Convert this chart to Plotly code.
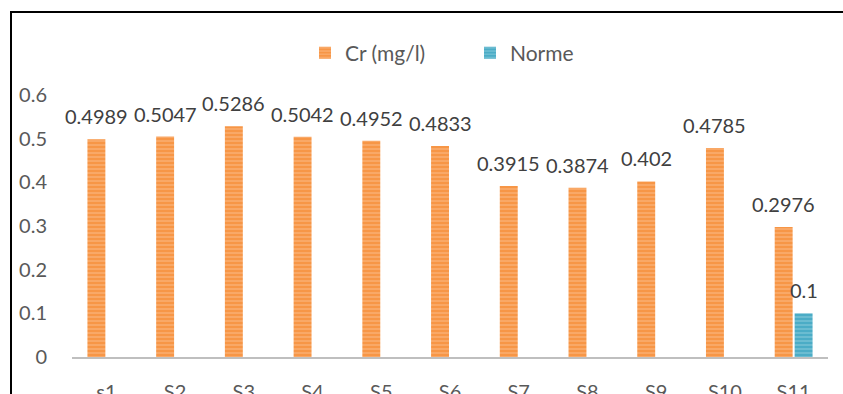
import plotly.graph_objects as go

categories = ["s1", "S2", "S3", "S4", "S5", "S6", "S7", "S8", "S9", "S10", "S11"]
cr_values = [0.4989, 0.5047, 0.5286, 0.5042, 0.4952, 0.4833, 0.3915, 0.3874, 0.402, 0.4785, 0.2976]
norme_values = [None, None, None, None, None, None, None, None, None, None, 0.1]
y_ticks = [0, 0.1, 0.2, 0.3, 0.4, 0.5, 0.6]

W, H = 843, 394
ML, MR, MT, MB = 72, 15, 95, 37
FONT = "Lato"
BARGAP = 0.42

fig = go.Figure()
fig.add_trace(go.Bar(
    name="Cr (mg/l)", x=categories, y=cr_values,
    marker=dict(color="#F79646", line=dict(width=0),
                pattern=dict(shape="-", fgcolor="#FBC9A0", bgcolor="#F79646",
                             size=4, solidity=0.35, fillmode="overlay")),
))
fig.add_trace(go.Bar(
    name="Norme", x=categories, y=norme_values,
    marker=dict(color="#4BACC6", line=dict(width=0),
                pattern=dict(shape="-", fgcolor="#A5D8E6", bgcolor="#4BACC6",
                             size=4, solidity=0.35, fillmode="overlay")),
))

pw = W - ML - MR
ph = H - MT - MB
cat_w = pw / len(categories)
half = cat_w * (1 - BARGAP) / 4  # offset from category center to each bar's center

# value labels above each bar
for series, dx in ((cr_values, -half), (norme_values, half)):
    for cat, v in zip(categories, series):
        if v is None:
            continue
        fig.add_annotation(x=cat, y=v, text=f"{v:g}", showarrow=False,
                           xanchor="center", yanchor="bottom", xshift=dx, yshift=9,
                           font=dict(family=FONT, size=20, color="#404040"))

# outer frame
fig.add_shape(type="rect", xref="paper", yref="paper",
              x0=(11 - ML) / pw, x1=(W + 60 - ML) / pw,
              y0=(H - MB - (H + 60)) / ph, y1=(H - MB - 12) / ph,
              line=dict(color="black", width=2), fillcolor="rgba(0,0,0,0)", layer="below")

fig.update_layout(
    width=W, height=H,
    margin=dict(l=ML, r=MR, t=MT, b=MB, autoexpand=False),
    paper_bgcolor="white", plot_bgcolor="white",
    barmode="group", bargap=BARGAP, bargroupgap=0.1,
    font=dict(family=FONT, size=20, color="#595959"),
    showlegend=True,
    legend=dict(orientation="h", x=0.5 + 20 / pw, xanchor="center",
                y=(H - MB - 53) / ph, yanchor="middle",
                font=dict(family=FONT, size=21, color="#595959"),
                itemwidth=30, entrywidth=120, traceorder="normal"),
    xaxis=dict(range=[-0.5, len(categories) - 0.5], autorange=False,
               showline=True, linecolor="#BFBFBF", linewidth=2,
               ticks="outside", ticklen=16, tickcolor="rgba(0,0,0,0)",
               tickfont=dict(family=FONT, size=20, color="#595959"), showgrid=False,
               automargin=False),
    yaxis=dict(range=[0, 0.6], autorange=False, tickvals=y_ticks,
               ticktext=[f"{v:g}" for v in y_ticks],
               showgrid=False, zeroline=False, showline=False,
               ticks="outside", ticklen=20, tickcolor="rgba(0,0,0,0)",
               tickfont=dict(family=FONT, size=20, color="#595959"),
               automargin=False),
)

fig.write_html("out.html")
